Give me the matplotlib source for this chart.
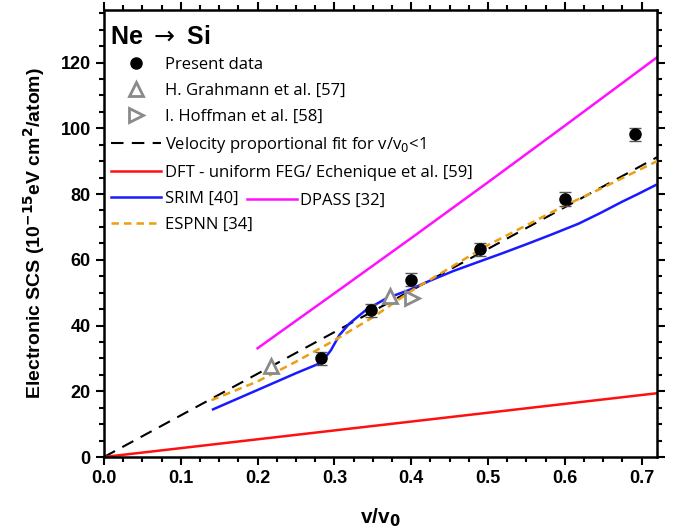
import matplotlib
matplotlib.use("Agg")
import matplotlib.pyplot as plt
from matplotlib.lines import Line2D
import numpy as np

# Present data
pres_x = [0.282, 0.347, 0.400, 0.490, 0.600, 0.692]
pres_y = [30.0, 44.6, 53.9, 63.2, 78.5, 98.2]
pres_err = [2.0, 2.0, 2.0, 2.0, 2.0, 2.0]

# H. Grahmann et al.
grah_x = [0.218, 0.373]
grah_y = [27.7, 48.9]

# I. Hoffman et al.
hoff_x = [0.401]
hoff_y = [48.3]

# Velocity proportional fit
fit_x = [0.0, 0.72]
fit_y = [0.0, 91.2]

# DFT - uniform FEG
dft_x = [0.0, 0.72]
dft_y = [0.0, 19.4]

# DPASS
dpass_x = [0.20, 0.30, 0.40, 0.50, 0.60, 0.72]
dpass_y = [33.1, 49.8, 66.6, 83.6, 100.8, 121.6]

# SRIM
srim_x = [0.142, 0.200, 0.250, 0.283, 0.2955, 0.3065, 0.3195, 0.341, 0.367, 0.397,
          0.423, 0.455, 0.488, 0.520, 0.553, 0.585, 0.618, 0.646, 0.674, 0.696, 0.718]
srim_y = [14.5, 20.4, 25.5, 28.7, 32.5, 37.1, 40.6, 44.7, 48.2, 50.8,
          53.5, 56.6, 59.4, 62.1, 65.0, 67.9, 71.0, 74.2, 77.6, 80.1, 82.7]

# ESPNN
espnn_x = [0.14, 0.20, 0.25, 0.30, 0.35, 0.40, 0.45, 0.50, 0.55, 0.60, 0.65, 0.72]
espnn_y = [17.3, 23.0, 29.0, 35.5, 42.5, 50.5, 57.5, 64.5, 70.5, 76.5, 82.0, 90.0]

plt.rcParams['font.family'] = ['Liberation Sans', 'DejaVu Sans']

fig = plt.figure(figsize=(6.77, 5.31), dpi=100)
ax = fig.add_axes([104/677, 1-457/531, (657-104)/677, (457-10)/531])

ax.plot(fit_x, fit_y, color='black', lw=1.5, ls=(0, (6, 4)), zorder=2)
ax.plot(dft_x, dft_y, color='#ff1010', lw=1.8, zorder=2)
ax.plot(dpass_x, dpass_y, color='#ff10ff', lw=1.8, zorder=2)
ax.plot(srim_x, srim_y, color='#1a1aff', lw=1.8, zorder=2)
ax.plot(espnn_x, espnn_y, color='#eba010', lw=1.8, ls=(0, (3, 2)), zorder=3)
ax.errorbar(pres_x, pres_y, yerr=pres_err, fmt='o', color='black', ms=8,
            ecolor='#555555', elinewidth=1, capsize=4, capthick=1, zorder=5)
ax.plot(grah_x, grah_y, '^', ms=10, mfc='white', mec='#8a8a8a', mew=2, ls='none', zorder=4)
ax.plot(hoff_x, hoff_y, '>', ms=10, mfc='white', mec='#8a8a8a', mew=2, ls='none', zorder=4)

ax.set_xlim(0, 0.72)
ax.set_ylim(0, 136)
ax.set_xticks(np.arange(0, 0.71, 0.1))
ax.set_xticks(np.arange(0, 0.72, 0.025), minor=True)
ax.set_yticks(np.arange(0, 121, 20))
ax.set_yticks(np.arange(0, 136, 5), minor=True)
ax.set_xticklabels([f"{v:.1f}" for v in np.arange(0, 0.71, 0.1)])
ax.tick_params(which='both', direction='out', top=True, right=True, width=1.5,
               labelsize=13)
ax.tick_params(which='major', length=6)
ax.tick_params(which='minor', length=3.5)
for lab in ax.get_xticklabels() + ax.get_yticklabels():
    lab.set_fontweight('bold')
for s in ax.spines.values():
    s.set_linewidth(1.8)

ax.set_xlabel(r"v/v$_\mathbf{0}$", fontsize=15, fontweight='bold', labelpad=14)
ax.set_ylabel(r"Electronic SCS (10$^{\mathbf{-15}}$eV cm$^{\mathbf{2}}$/atom)",
              fontsize=14, fontweight='bold', labelpad=10)

ax.text(0.011, 0.94, r"Ne $\rightarrow$ Si", transform=ax.transAxes,
        fontsize=18, fontweight='bold', va='center', ha='left')

handles = [
    Line2D([], [], marker='o', color='black', ls='none', ms=8),
    Line2D([], [], marker='^', mfc='white', mec='#8a8a8a', mew=2, ls='none', ms=10),
    Line2D([], [], marker='>', mfc='white', mec='#8a8a8a', mew=2, ls='none', ms=10),
    Line2D([], [], color='black', lw=1.5, ls=(0, (6, 4))),
    Line2D([], [], color='#ff1010', lw=1.8),
    Line2D([], [], color='#1a1aff', lw=1.8),
    Line2D([], [], color='#eba010', lw=1.8, ls=(0, (3, 2))),
]
labels = ["Present data", "H. Grahmann et al. [57]", "I. Hoffman et al. [58]",
          r"Velocity proportional fit for v/v$_0$<1",
          "DFT - uniform FEG/ Echenique et al. [59]",
          "SRIM [40]", "ESPNN [34]"]
leg = ax.legend(handles, labels, loc='upper left', bbox_to_anchor=(0.013, 0.895),
                frameon=False, handlelength=3.0, handletextpad=0.2,
                labelspacing=0.6, borderaxespad=0, borderpad=0,
                prop={'family': 'Open Sans', 'size': 12})
ax.add_artist(leg)
leg2 = ax.legend([Line2D([], [], color='#ff10ff', lw=1.8)], ["DPASS [32]"],
                 loc='center left', bbox_to_anchor=(0.258, 0.572), frameon=False,
                 handlelength=3.0, handletextpad=0.2, borderaxespad=0, borderpad=0,
                 prop={'family': 'Open Sans', 'size': 12})

fig.savefig("out.png", dpi=100)
